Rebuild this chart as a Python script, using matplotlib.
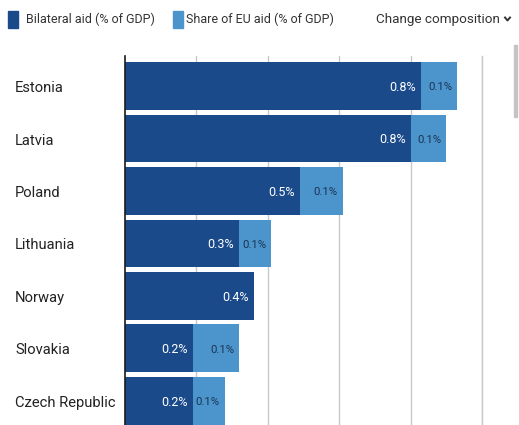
import matplotlib
matplotlib.use("Agg")
import matplotlib.pyplot as plt
from matplotlib.patches import Rectangle
from matplotlib.lines import Line2D

plt.rcParams['font.family'] = ['Roboto', 'DejaVu Sans']

# data
countries = ["Estonia", "Latvia", "Poland", "Lithuania", "Norway", "Slovakia", "Czech Republic"]
bilateral = [0.83, 0.80, 0.49, 0.32, 0.36, 0.19, 0.19]
eu_share = [0.10, 0.10, 0.12, 0.09, 0.0, 0.13, 0.09]
legend_labels = ["Bilateral aid (% of GDP)", "Share of EU aid (% of GDP)"]

dark_blue = "#1b4a8b"
light_blue = "#4b95cc"
label_dark = "#1c3354"
grid_color = "#c8c8c8"

W, H = 519, 425
fig = plt.figure(figsize=(W / 100, H / 100), dpi=100)

# axes: x from 125px to 482px, y from 56px to bottom
ax = fig.add_axes([125 / W, 0, (482 - 125) / W, (H - 56) / H])
ax.set_xlim(0, 1.0)
ax.set_ylim(6.46, -0.57)

y = list(range(len(countries)))
ax.barh(y, bilateral, height=0.91, color=dark_blue, zorder=2)
ax.barh(y, eu_share, left=bilateral, height=0.91, color=light_blue, zorder=2)

# value labels, right-aligned inside each segment
pad = 5 / 357 * 1.0
for i in y:
    b = bilateral[i]
    e = eu_share[i]
    ax.text(b - pad, i + 0.03, f"{b:.1f}%", color="white", ha="right", va="center",
            fontsize=9, zorder=3)
    if e > 0:
        ax.text(b + e - pad, i + 0.03, f"{e:.1f}%", color=label_dark, ha="right",
                va="center", fontsize=8.2, zorder=3)

# grid
ax.set_xticks([0.2, 0.4, 0.6, 0.8, 1.0])
ax.grid(axis="x", color=grid_color, linewidth=1, zorder=0)
ax.tick_params(axis="both", length=0)
ax.set_xticklabels([])
ax.set_yticks(y)
ax.set_yticklabels([])
for s in ["top", "right", "bottom"]:
    ax.spines[s].set_visible(False)
ax.spines["left"].set_color("#1a1a1a")
ax.spines["left"].set_linewidth(1.2)
ax.set_axisbelow(True)
ax.axvline(1.0, color=grid_color, linewidth=1, zorder=0, clip_on=False)

# category labels
for i, c in enumerate(countries):
    ax.text(-110 / 357, i + 0.04, c, ha="left", va="center", fontsize=10.6,
            color="#222222", clip_on=False)

# legend row
fig.patches.append(Rectangle((8 / W, 1 - 28 / H), 10 / W, 17 / H,
                             transform=fig.transFigure, color=dark_blue))
fig.text(26 / W, 1 - 19 / H, legend_labels[0], ha="left", va="center",
         fontsize=9.0, color="#333333")
fig.patches.append(Rectangle((173 / W, 1 - 28 / H), 10 / W, 17 / H,
                             transform=fig.transFigure, color=light_blue))
fig.text(186 / W, 1 - 19 / H, legend_labels[1], ha="left", va="center",
         fontsize=9.0, color="#333333")
fig.text(500 / W, 1 - 19 / H, "Change composition", ha="right", va="center",
         fontsize=9.7, color="#333333")
fig.add_artist(Line2D([505 / W, 507.5 / W, 510 / W],
                      [1 - 17.5 / H, 1 - 20.5 / H, 1 - 17.5 / H],
                      transform=fig.transFigure, color="#333333", linewidth=1.4))

# scrollbar
fig.patches.append(Rectangle((514 / W, 1 - 117 / H), 3 / W, 72 / H,
                             transform=fig.transFigure, color="#c4c4c4"))

fig.savefig("out.png", dpi=100)
